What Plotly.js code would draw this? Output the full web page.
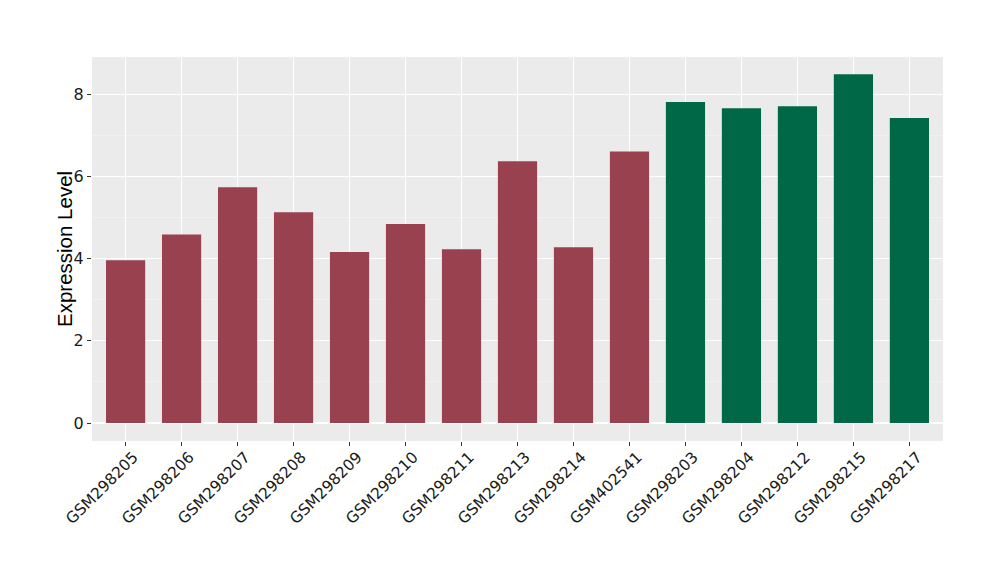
<!DOCTYPE html>
<html><head><meta charset="utf-8">
<script src="https://cdn.plot.ly/plotly-3.0.1.min.js"></script>
<style>html,body{margin:0;padding:0;background:#fff}#chart{width:1000px;height:580px}</style>
</head><body><div id="chart"></div>
<script>
const samples = ["GSM298205","GSM298206","GSM298207","GSM298208","GSM298209","GSM298210","GSM298211","GSM298213","GSM298214","GSM402541","GSM298203","GSM298204","GSM298212","GSM298215","GSM298217"];
const values = [3.96,4.59,5.74,5.13,4.16,4.84,4.23,6.37,4.28,6.61,7.81,7.66,7.71,8.49,7.42];
const groups = ["A","A","A","A","A","A","A","A","A","A","B","B","B","B","B"];
const groupColors = {A:"#9A4150", B:"#006847"};
const yTicks = [0,2,4,6,8];
const yTitle = "Expression Level";

const trace = {
  type: "bar",
  x: samples,
  y: values,
  width: 0.7,
  marker: {color: groups.map(g => groupColors[g])},
  hoverinfo: "x+y"
};
const layout = {
  width: 1000, height: 580,
  margin: {l: 92, r: 57, t: 57, b: 139},
  paper_bgcolor: "#ffffff",
  plot_bgcolor: "#EBEBEB",
  showlegend: false,
  font: {family: "DejaVu Sans, sans-serif", color: "#000"},
  xaxis: {
    type: "category",
    range: [-0.6, 14.6],
    tickangle: -45,
    tickfont: {size: 15.5, color: "#1a1a1a"},
    ticks: "outside", ticklen: 4, tickcolor: "#333333", tickwidth: 1,
    ticklabelshift: 8, ticklabelstandoff: -4,
    showgrid: true, gridcolor: "#ffffff", gridwidth: 1.1,
    zeroline: false, showline: false
  },
  yaxis: {
    range: [-0.438, 8.907],
    tickvals: yTicks,
    ticktext: yTicks.map(String),
    tickfont: {size: 16, color: "#1a1a1a"},
    ticks: "outside", ticklen: 4, tickcolor: "#333333", tickwidth: 1,
    showgrid: true, gridcolor: "#ffffff", gridwidth: 1.1,
    minor: {tickvals: [1,3,5,7], showgrid: true, gridcolor: "#F5F5F5", gridwidth: 0.6, ticks: ""},
    zeroline: false, showline: false
  },
  annotations: [{
    text: yTitle, xref: "paper", yref: "paper", x: 0, y: 0.5,
    xanchor: "center", yanchor: "middle", xshift: -28, textangle: -90,
    showarrow: false,
    font: {family: "Liberation Sans, Arial, sans-serif", size: 20.5, color: "#000"}
  }]
};
Plotly.newPlot("chart", [trace], layout, {displayModeBar: false, staticPlot: true});
</script></body></html>
